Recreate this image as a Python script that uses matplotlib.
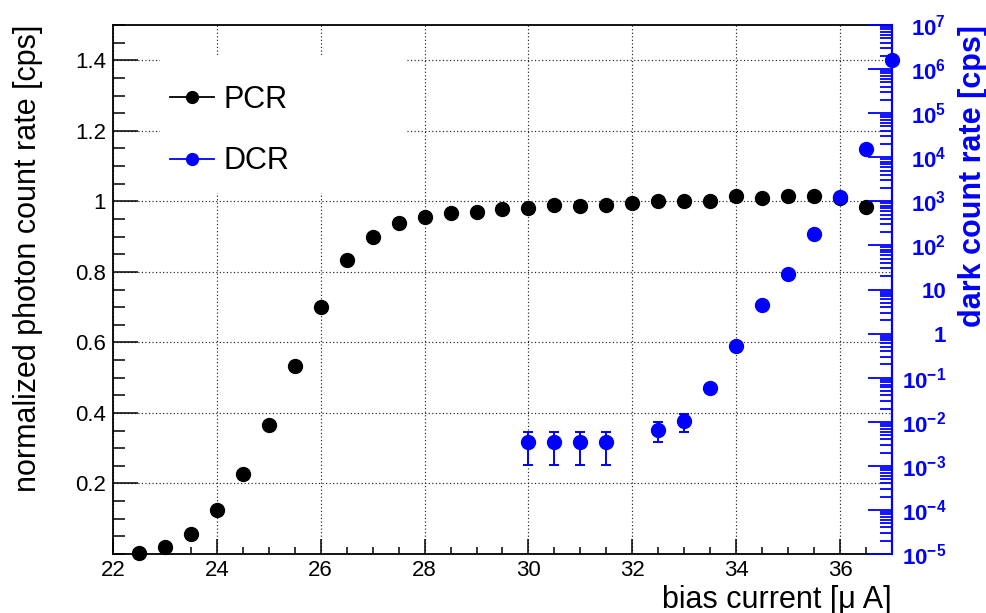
import matplotlib
matplotlib.use('Agg')
import numpy as np
import matplotlib.pyplot as plt
from matplotlib.ticker import FixedLocator, MultipleLocator, LogLocator, NullFormatter
from matplotlib.lines import Line2D
from matplotlib.patches import Rectangle

plt.rcParams['font.family'] = ['Liberation Sans', 'DejaVu Sans']
plt.rcParams['mathtext.fontset'] = 'custom'
plt.rcParams['mathtext.rm'] = 'Liberation Sans'
plt.rcParams['mathtext.bf'] = 'Liberation Sans:bold'
plt.rcParams['mathtext.it'] = 'Liberation Sans:italic'

# ---------------- data ----------------
bias = [22.5, 23.0, 23.5, 24.0, 24.5, 25.0, 25.5, 26.0, 26.5, 27.0,
        27.5, 28.0, 28.5, 29.0, 29.5, 30.0, 30.5, 31.0, 31.5, 32.0,
        32.5, 33.0, 33.5, 34.0, 34.5, 35.0, 35.5, 36.0, 36.5]
pcr = [0.002, 0.019, 0.057, 0.124, 0.227, 0.367, 0.534, 0.700, 0.833, 0.900,
       0.940, 0.955, 0.966, 0.969, 0.977, 0.980, 0.991, 0.986, 0.991, 0.994,
       1.000, 1.000, 1.000, 1.016, 1.009, 1.016, 1.016, 1.009, 0.983]

dcr_bias = [30.0, 30.5, 31.0, 31.5, 32.5, 33.0, 33.5, 34.0, 34.5, 35.0,
            35.5, 36.0, 36.5, 37.0]
dcr = [3.4e-3, 3.4e-3, 3.4e-3, 3.4e-3, 6.5e-3, 1.02e-2, 0.059, 0.52, 4.4, 23.0,
       185.0, 1230.0, 1.51e4, 1.58e6]
dcr_low = [1.02e-3, 1.02e-3, 1.02e-3, 1.02e-3, 3.4e-3, 6.0e-3, 0.059, 0.52, 4.4, 23.0,
           185.0, 1230.0, 1.51e4, 1.58e6]
dcr_high = [5.75e-3, 5.75e-3, 5.75e-3, 5.75e-3, 9.8e-3, 1.48e-2, 0.059, 0.52, 4.4, 23.0,
            185.0, 1230.0, 1.51e4, 1.58e6]

left_ticks = [0.2, 0.4, 0.6, 0.8, 1.0, 1.2, 1.4]
left_labels = ['0.2', '0.4', '0.6', '0.8', '1', '1.2', '1.4']
right_ticks = [1e-5, 1e-4, 1e-3, 1e-2, 1e-1, 1, 10, 1e2, 1e3, 1e4, 1e5, 1e6, 1e7]
right_labels = [r'$\mathbf{10^{-5}}$', r'$\mathbf{10^{-4}}$', r'$\mathbf{10^{-3}}$',
                r'$\mathbf{10^{-2}}$', r'$\mathbf{10^{-1}}$', '1', '10',
                r'$\mathbf{10^{2}}$', r'$\mathbf{10^{3}}$', r'$\mathbf{10^{4}}$',
                r'$\mathbf{10^{5}}$', r'$\mathbf{10^{6}}$', r'$\mathbf{10^{7}}$']
x_ticks = [22, 24, 26, 28, 30, 32, 34, 36]

# ---------------- figure ----------------
fig = plt.figure(figsize=(9.87, 6.13), dpi=100)
ax = fig.add_axes([0.1145, 0.0962, 0.7892, 0.8630])
ax.set_xlim(22, 37)
ax.set_ylim(0, 1.5)

ax.xaxis.set_major_locator(FixedLocator(x_ticks))
ax.xaxis.set_minor_locator(MultipleLocator(0.5))
ax.yaxis.set_major_locator(FixedLocator(left_ticks))
ax.set_yticklabels(left_labels)
ax.yaxis.set_minor_locator(MultipleLocator(0.05))

ax.tick_params(axis='x', which='major', direction='in', length=10.8, width=1.1,
               top=False, bottom=True, labelsize=16, pad=4)
ax.tick_params(axis='x', which='minor', direction='in', length=5.2, width=1.1,
               top=False, bottom=True)
ax.tick_params(axis='y', which='major', direction='in', length=18, width=1.1,
               left=True, right=False, labelsize=16, pad=5)
ax.tick_params(axis='y', which='minor', direction='in', length=8.6, width=1.1,
               left=True, right=False)
for s in ['left', 'bottom', 'top']:
    ax.spines[s].set_linewidth(1.3)
ax.spines['right'].set_visible(False)

ax.grid(True, which='major', linestyle=(0, (1, 2)), color='#222222', linewidth=0.85)
ax.set_axisbelow(True)

ax.plot(bias, pcr, 'o', color='black', ms=10, zorder=3, clip_on=False)

ax.set_ylabel('normalized photon count rate [cps]', fontsize=22, loc='top')
ax.yaxis.set_label_coords(-0.09, 1.0)
ax.set_xlabel('bias current [\u03bc A]', fontsize=22, loc='right')
ax.xaxis.set_label_coords(1.0, -0.058)

# ---------------- right (log) axis ----------------
ax2 = ax.twinx()
ax2.set_yscale('log')
ax2.set_ylim(1e-5, 1e7)
ax2.yaxis.set_major_locator(FixedLocator(right_ticks))
ax2.set_yticklabels(right_labels)
ax2.yaxis.set_minor_locator(LogLocator(base=10, subs=np.arange(2, 10), numticks=100))
ax2.yaxis.set_minor_formatter(NullFormatter())
ax2.tick_params(axis='y', which='major', direction='in', length=17.3, width=1.3,
                colors='blue', labelsize=16, pad=39)
ax2.tick_params(axis='y', which='minor', direction='in', length=8.6, width=1.3,
                colors='blue')
for lbl in ax2.get_yticklabels():
    lbl.set_horizontalalignment('right')
    lbl.set_fontweight('bold')
for s in ['left', 'bottom', 'top']:
    ax2.spines[s].set_visible(False)
ax2.spines['right'].set_color('blue')
ax2.spines['right'].set_linewidth(1.6)

yerr = [[v - lo for v, lo in zip(dcr, dcr_low)], [hi - v for v, hi in zip(dcr, dcr_high)]]
ax2.errorbar(dcr_bias, dcr, yerr=yerr, fmt='none', ecolor='blue', elinewidth=1.4,
             capsize=3.5, capthick=1.4, zorder=3)
ax2.plot(dcr_bias, dcr, 'o', color='blue', ms=10, zorder=4, clip_on=False)

ax2.set_ylabel('dark count rate [cps]', fontsize=22, fontweight='bold', color='blue', loc='top')
ax2.yaxis.set_label_coords(1.085, 1.0)

# legend background box (white, no border) and legend
ax2.add_patch(Rectangle((0.0603, 0.6824), 0.317, 0.2609, transform=ax2.transAxes,
                        facecolor='white', edgecolor='none', zorder=1))
handles = [Line2D([], [], color='black', marker='o', ms=8.5, lw=1.3),
           Line2D([], [], color='blue', marker='o', ms=8.5, lw=1.3)]
leg = ax2.legend(handles, ['PCR', 'DCR'], loc='upper left', bbox_to_anchor=(0.0732, 0.887),
                 frameon=False, fontsize=22, handlelength=1.45, handletextpad=0.3,
                 labelspacing=1.03, borderpad=0, borderaxespad=0)
leg.set_zorder(5)

fig.savefig('out.png', dpi=100)
